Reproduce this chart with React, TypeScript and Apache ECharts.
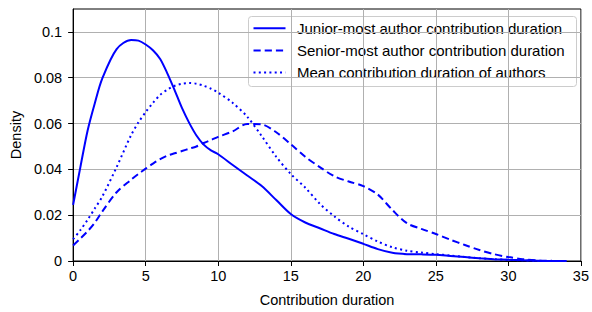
import React, { useEffect, useRef } from "react";
import * as echarts from "echarts";

const xValues = [0, 0.5, 1, 1.5, 2, 3, 4, 4.5, 5, 5.5, 6, 6.5, 7, 7.5, 8, 8.5, 9, 9.5, 10, 11, 12, 13, 14, 15, 16, 17, 18, 19, 20, 21, 22, 23, 24, 25, 26, 27, 28, 29, 30, 31, 32, 33, 34];
const juniorValues = [0.0245, 0.041, 0.057, 0.069, 0.0795, 0.0925, 0.0965, 0.0962, 0.0945, 0.092, 0.0882, 0.0818, 0.0745, 0.0668, 0.0603, 0.0548, 0.0508, 0.0483, 0.0466, 0.0419, 0.0373, 0.0327, 0.0266, 0.0205, 0.0168, 0.0143, 0.0118, 0.0097, 0.0075, 0.0052, 0.0036, 0.003, 0.0029, 0.0027, 0.0022, 0.0017, 0.0012, 0.0008, 0.0005, 0.0003, 0.0001, 0.0, 0.0];
const seniorValues = [0.0068, 0.0098, 0.013, 0.0168, 0.0215, 0.030, 0.0355, 0.038, 0.0403, 0.0425, 0.0445, 0.046, 0.047, 0.048, 0.049, 0.050, 0.0515, 0.0528, 0.0542, 0.0566, 0.0598, 0.0596, 0.0562, 0.051, 0.0455, 0.041, 0.037, 0.0347, 0.0327, 0.029, 0.0223, 0.0165, 0.014, 0.0118, 0.0093, 0.007, 0.0048, 0.003, 0.0017, 0.0008, 0.0003, 0.0001, 0.0];
const meanValues = [0.0095, 0.0135, 0.018, 0.023, 0.028, 0.041, 0.055, 0.0605, 0.065, 0.069, 0.0725, 0.0748, 0.0765, 0.0774, 0.0777, 0.0774, 0.0765, 0.0752, 0.0735, 0.069, 0.063, 0.0545, 0.0455, 0.038, 0.032, 0.025, 0.0195, 0.015, 0.0117, 0.0085, 0.006, 0.0045, 0.0037, 0.003, 0.0024, 0.0018, 0.0012, 0.0008, 0.0005, 0.0003, 0.0001, 0.0, 0.0];

const seriesNames = [
  "Junior-most author contribution duration",
  "Senior-most author contribution duration",
  "Mean contribution duration of authors",
];
const xTicks = [0, 5, 10, 15, 20, 25, 30, 35];
const yTicks = [0, 0.02, 0.04, 0.06, 0.08, 0.1];

const FONT = "'Liberation Sans', Arial, Helvetica, sans-serif";
const BLUE = "#0000ff";
const DASHES: any[] = [null, [7.2, 4], [2, 3.3]];

export default function App() {
  const ref = useRef<HTMLDivElement>(null);
  useEffect(() => {
    if (!ref.current) return;
    const chart = echarts.init(ref.current, null, { renderer: "svg" });
    const pairs = (ys: number[]) => xValues.map((x, i) => [x, ys[i]]);
    const all = [juniorValues, seniorValues, meanValues];

    const legendX = 248.5;
    const legendY = 16.5;
    const rowYs = [28.3, 50.5, 72.5];
    const legendChildren: any[] = [
      {
        type: "rect",
        shape: { x: legendX, y: legendY, width: 328, height: 70, r: 3 },
        style: { fill: "rgba(255,255,255,0.85)", stroke: "#cccccc", lineWidth: 1 },
      },
    ];
    seriesNames.forEach((name, i) => {
      legendChildren.push({
        type: "line",
        shape: { x1: 253.5, y1: rowYs[i], x2: 285.5, y2: rowYs[i] },
        style: { stroke: BLUE, lineWidth: 2, lineDash: DASHES[i] || undefined },
      });
      legendChildren.push({
        type: "text",
        x: 297,
        y: rowYs[i],
        style: {
          text: name,
          fill: "#000",
          font: `15px ${FONT}`,
          textVerticalAlign: "middle",
          verticalAlign: "middle",
          align: "left",
        },
      });
    });

    chart.setOption({
      animation: false,
      textStyle: { fontFamily: FONT },
      grid: {
        left: 71,
        right: 7,
        top: 9,
        bottom: 48,
        show: true,
        borderColor: "#000",
        borderWidth: 1,
        backgroundColor: "transparent",
      },
      graphic: [{ type: "group", z: 100, children: legendChildren }],
      xAxis: {
        type: "value",
        min: 0,
        max: 35,
        interval: 5,
        name: "Contribution duration",
        nameLocation: "middle",
        nameGap: 31,
        nameTextStyle: { fontSize: 14.5, color: "#000", fontFamily: FONT },
        axisLine: { show: true, onZero: false, lineStyle: { color: "#000", width: 1 } },
        axisTick: { show: true, length: 5, lineStyle: { color: "#000" } },
        axisLabel: {
          fontSize: 14.5,
          color: "#000",
          margin: 7,
          fontFamily: FONT,
          customValues: xTicks,
        },
        splitLine: { show: true, lineStyle: { color: "#b0b0b0", width: 1 } },
      },
      yAxis: {
        type: "value",
        min: 0,
        max: 0.11,
        interval: 0.02,
        name: "Density",
        nameLocation: "middle",
        nameGap: 47,
        nameTextStyle: { fontSize: 14.5, color: "#000", fontFamily: FONT },
        axisLine: { show: true, onZero: false, lineStyle: { color: "#000", width: 1 } },
        axisTick: { show: true, length: 5, lineStyle: { color: "#000" }, customValues: yTicks },
        axisLabel: {
          fontSize: 14.5,
          color: "#000",
          margin: 11,
          fontFamily: FONT,
          customValues: yTicks,
          formatter: (v: number) => String(parseFloat(v.toFixed(2))),
        },
        splitLine: { show: true, lineStyle: { color: "#b0b0b0", width: 1 } },
      },
      series: seriesNames.map((name, i) => ({
        name,
        type: "line",
        data: pairs(all[i]),
        smooth: 0.3,
        symbol: "none",
        showSymbol: false,
        lineStyle: { color: BLUE, width: 2, type: DASHES[i] || "solid" },
        itemStyle: { color: BLUE },
      })),
    });
    return () => chart.dispose();
  }, []);
  return <div ref={ref} style={{ width: 592, height: 312, position: "absolute", left: 0, top: 0 }} />;
}
